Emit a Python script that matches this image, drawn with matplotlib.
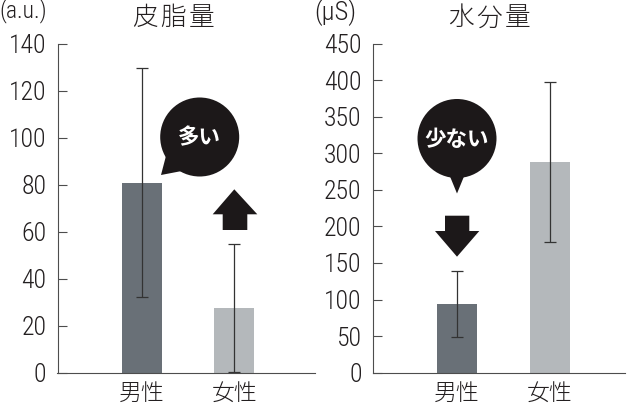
import numpy as np
import matplotlib
matplotlib.use("Agg")
import matplotlib.pyplot as plt
from matplotlib.patches import Circle, Polygon

# data
groups = ["男性", "女性"]
sebum_mean = [80.7, 27.5]
sebum_sd = [48.7, 27.4]
water_mean = [93.5, 288.0]
water_sd = [45.0, 110.0]

bar_colors = ["#697077", "#b4b8bb"]
ink = "#231f20"
axis_col = "#4d4d4d"

cjk = ["Noto Sans CJK JP", "DejaVu Sans"]
num_font = ["Roboto Condensed", "Liberation Sans", "DejaVu Sans"]

W, H = 630, 409
fig = plt.figure(figsize=(W / 100, H / 100), dpi=100)

y0 = 1 - 372.7 / H
hgt = (372.7 - 43.5) / H
ax1 = fig.add_axes([57.5 / W, y0, (315 - 57.5) / W, hgt])
ax2 = fig.add_axes([372.7 / W, y0, (625 - 372.7) / W, hgt])


def draw_panel(ax, means, sds, ymax, step, xlim):
    x = np.arange(len(groups))
    ax.bar(x, means, width=0.43, color=bar_colors, zorder=2)
    ax.errorbar(x, means, yerr=sds, fmt="none", ecolor="#333333",
                elinewidth=0.9, capsize=4, capthick=0.9, zorder=3)
    ax.set_xlim(*xlim)
    ax.set_ylim(0, ymax)
    ax.set_yticks(np.arange(0, ymax + 1, step))
    ax.set_xticks(x)
    ax.set_xticklabels(groups, family=cjk, fontweight="light", fontsize=16.5, color=ink)
    for lab in ax.get_yticklabels():
        lab.set_family(num_font)
        lab.set_fontweight("light")
        lab.set_fontsize(18.5)
        lab.set_color(ink)
    ax.tick_params(axis="y", direction="in", length=6.5, width=0.8,
                   color=axis_col, pad=8)
    ax.tick_params(axis="x", length=0, pad=6)
    for s in ["top", "right"]:
        ax.spines[s].set_visible(False)
    for s in ["left", "bottom"]:
        ax.spines[s].set_color(axis_col)
        ax.spines[s].set_linewidth(0.8)


draw_panel(ax1, sebum_mean, sebum_sd, 140, 20, (-0.909, 1.87))
draw_panel(ax2, water_mean, water_sd, 450, 50, (-0.906, 1.81))

# overlay in pixel coordinates for titles and callouts
ov = fig.add_axes([0, 0, 1, 1], zorder=10)
ov.set_xlim(0, W)
ov.set_ylim(H, 0)
ov.axis("off")
ov.patch.set_alpha(0)

for ch, cx in zip("皮脂量", [145, 173.5, 202]):
    ov.text(cx, 18, ch, family=cjk, fontweight="light", fontsize=18.5, color=ink,
            ha="center", va="center")
for ch, cx in zip("水分量", [461, 489, 518]):
    ov.text(cx, 18, ch, family=cjk, fontweight="light", fontsize=18.5, color=ink,
            ha="center", va="center")

ov.text(-1, 11, "(a.u.)", family=num_font, fontweight="light", fontsize=17,
        color=ink, ha="left", va="center")
ov.text(314, 13, "(μS)", family=num_font, fontweight="light", fontsize=19,
        color=ink, ha="left", va="center")

bubble = "#1c1819"
# 多い bubble with tail toward lower-left
ov.add_patch(Circle((199.7, 137), 39.5, color=bubble, lw=0))
ov.add_patch(Polygon([(161, 175), (167, 152), (187, 170)], closed=True, color=bubble, lw=0))
ov.text(199.5, 138, "多い", family=cjk, fontsize=15.5, fontweight="bold", color="white",
        ha="center", va="center")
# up arrow
ov.add_patch(Polygon([(234.3, 189.3), (257.3, 214.3), (247.3, 214.3), (247.3, 230),
                      (222.7, 230), (222.7, 214.3), (212.7, 214.3)],
                     closed=True, color=bubble, lw=0))

# 少ない bubble with tail downward
ov.add_patch(Circle((457, 138.5), 39.5, color=bubble, lw=0))
ov.add_patch(Polygon([(449, 174), (465, 174), (457, 193.5)], closed=True, color=bubble, lw=0))
ov.text(457, 140, "少ない", family=cjk, fontsize=15.5, fontweight="bold", color="white",
        ha="center", va="center")
# down arrow
ov.add_patch(Polygon([(445, 215.7), (469.3, 215.7), (469.3, 231), (479.3, 231),
                      (457, 256.7), (435, 231), (445, 231)],
                     closed=True, color=bubble, lw=0))

fig.savefig("out.png", dpi=100)
